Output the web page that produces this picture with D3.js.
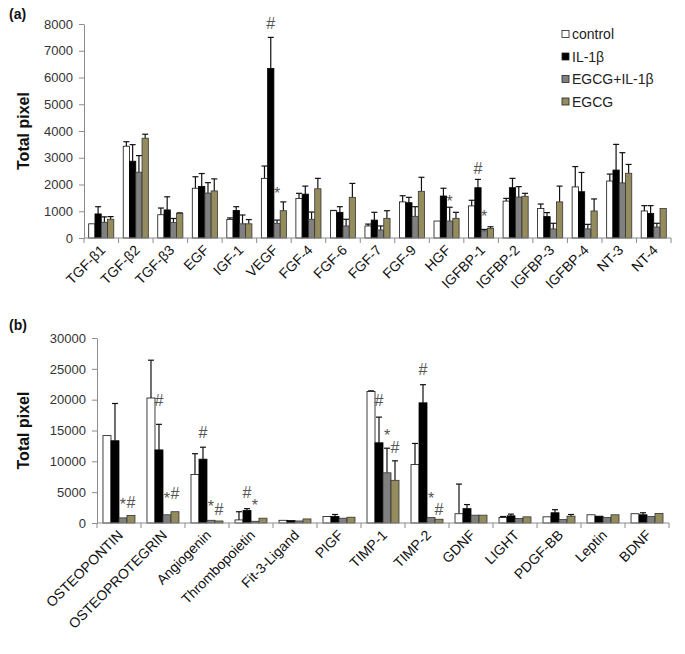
<!DOCTYPE html>
<html><head><meta charset="utf-8">
<script src="https://cdn.jsdelivr.net/npm/d3@7/dist/d3.min.js"></script>
<style>
body{margin:0;background:#fff;}
text{font-family:"Liberation Sans",Arial,sans-serif;}
</style></head>
<body><svg id="c" width="685" height="654"></svg>
<script>
const seriesNames = ["control","IL-1β","EGCG+IL-1β","EGCG"];
const seriesColors = ["#ffffff","#000000","#808080","#958c5d"];

// Panel (a)
const categoriesA = ["TGF-β1","TGF-β2","TGF-β3","EGF","IGF-1","VEGF","FGF-4","FGF-6","FGF-7","FGF-9","HGF","IGFBP-1","IGFBP-2","IGFBP-3","IGFBP-4","NT-3","NT-4"];
const controlA   = [530,3430,870,1860,690,2230,1480,1020,450,1350,635,1200,1380,1100,1910,2130,1010];
const il1bA      = [900,2870,1050,1930,1030,6340,1640,960,670,1320,1570,1880,1880,800,1730,2540,920];
const egcgIl1bA  = [590,2460,580,1680,530,550,700,450,300,810,635,270,1530,340,340,2060,410];
const egcgA      = [700,3730,920,1760,530,1020,1840,1520,735,1745,735,360,1560,1350,1010,2420,1100];
const errControlA  = [0,170,250,430,60,460,190,10,70,230,0,210,100,170,760,260,200];
const errIl1bA     = [270,620,490,480,140,1160,300,210,290,200,290,310,350,150,720,960,290];
const errEgcgIl1bA = [200,620,150,390,330,120,270,250,150,360,515,50,390,210,170,1130,140];
const errEgcgA     = [100,150,20,450,160,330,390,520,285,525,225,60,110,590,450,330,0];
const ticksA = [0,1000,2000,3000,4000,5000,6000,7000,8000];
const marksA = [
  {cat:"VEGF", s:1, sym:"#", v:8000},
  {cat:"VEGF", s:2, sym:"*", v:1640},
  {cat:"HGF", s:2, sym:"*", v:1330},
  {cat:"IGFBP-1", s:1, sym:"#", v:2580},
  {cat:"IGFBP-1", s:2, sym:"*", v:790}
];

// Panel (b)
const categoriesB = ["OSTEOPONTIN","OSTEOPROTEGRIN","Angiogenin","Thrombopoietin","Fit-3-Ligand","PIGF","TIMP-1","TIMP-2","GDNF","LIGHT","PDGF-BB","Leptin","BDNF"];
const controlB   = [14170,20270,7860,500,440,1050,21320,9470,1500,890,1000,1330,1500];
const il1bB      = [13340,11850,10350,2050,390,1050,13010,19490,2330,1160,1660,1110,1330];
const egcgIl1bB  = [830,1330,440,280,330,780,8140,890,1270,720,550,890,1050];
const egcgB      = [1220,1830,330,780,660,940,6920,610,1270,1000,1110,1330,1550];
const errControlB  = [0,6130,3380,1330,0,0,110,3430,4810,160,0,0,0];
const errIl1bB     = [6040,4150,1940,280,0,330,4160,2940,660,280,500,0,330];
const errEgcgIl1bB = [0,0,0,0,0,0,3990,0,0,0,0,0,0];
const errEgcgB     = [0,0,0,0,0,0,3160,0,0,0,270,0,0];
const ticksB = [0,5000,10000,15000,20000,25000,30000];
const marksB = [
  {cat:"OSTEOPONTIN", s:2, sym:"*", v:2880},
  {cat:"OSTEOPONTIN", s:3, sym:"#", v:3320},
  {cat:"OSTEOPROTEGRIN", s:1, sym:"#", v:19770},
  {cat:"OSTEOPROTEGRIN", s:2, sym:"*", v:3930},
  {cat:"OSTEOPROTEGRIN", s:3, sym:"#", v:4650},
  {cat:"Angiogenin", s:1, sym:"#", v:14670},
  {cat:"Angiogenin", s:2, sym:"*", v:2600},
  {cat:"Angiogenin", s:3, sym:"#", v:2050},
  {cat:"Thrombopoietin", s:1, sym:"#", v:4820},
  {cat:"Thrombopoietin", s:2, sym:"*", v:2710},
  {cat:"TIMP-1", s:1, sym:"#", v:19770},
  {cat:"TIMP-1", s:2, sym:"*", v:14060},
  {cat:"TIMP-1", s:3, sym:"#", v:12240},
  {cat:"TIMP-2", s:1, sym:"#", v:24860},
  {cat:"TIMP-2", s:2, sym:"*", v:3880},
  {cat:"TIMP-2", s:3, sym:"#", v:2160}
];

const svg = d3.select("#c");

function panel(cfg){
  const g = svg.append("g");
  const x = d3.scaleBand().domain(cfg.cats).range([cfg.x0, cfg.x1]).paddingInner(0.273).paddingOuter(0.136);
  const xs = d3.scaleBand().domain([0,1,2,3]).range([0, x.bandwidth()]);
  const y = d3.scaleLinear().domain([0, cfg.ymax]).range([cfg.yb, cfg.yt]);
  const vals = [cfg.c, cfg.i, cfg.ei, cfg.e];
  const errs = [cfg.ec, cfg.ei_, cfg.eei, cfg.ee];

  const ya = g.append("g").attr("transform", `translate(${cfg.x0},0)`)
    .call(d3.axisLeft(y).tickValues(cfg.ticks).tickSize(5).tickSizeOuter(0).tickPadding(6).tickFormat(d3.format("d")));
  ya.select(".domain").attr("stroke","#8c8c8c");
  ya.selectAll(".tick line").attr("stroke","#8c8c8c");
  ya.selectAll(".tick text").attr("font-size", 13).attr("fill","#333").attr("font-family","Liberation Sans, Arial, sans-serif");

  cfg.cats.forEach((cat, ci) => {
    for(let s=0;s<4;s++){
      const v = vals[s][ci];
      const bx = x(cat) + xs(s);
      const bw = xs.bandwidth();
      const err = errs[s][ci];
      if(err>0){
        const cx = bx + bw/2;
        g.append("line").attr("x1",cx).attr("x2",cx).attr("y1",y(v)).attr("y2",y(v+err)).attr("stroke","#111").attr("stroke-width",1.2);
        g.append("line").attr("x1",cx-3).attr("x2",cx+3).attr("y1",y(v+err)).attr("y2",y(v+err)).attr("stroke","#111").attr("stroke-width",1.2);
      }
      g.append("rect").attr("x",bx).attr("y",y(v)).attr("width",bw).attr("height",y(0)-y(v))
        .attr("fill",seriesColors[s]).attr("stroke", s===0 ? "#111" : (s===1 ? "#000" : "#333")).attr("stroke-width",0.8);
    }
  });

  g.append("line").attr("x1",cfg.x0).attr("x2",cfg.x1).attr("y1",y(0)).attr("y2",y(0)).attr("stroke","#8c8c8c");
  const step = x.step();
  for(let k=0;k<=cfg.cats.length;k++){
    const tx = cfg.x0 + k*step;
    g.append("line").attr("x1",tx).attr("x2",tx).attr("y1",y(0)).attr("y2",y(0)+5).attr("stroke","#8c8c8c");
  }
  cfg.cats.forEach(cat => {
    const cx = x(cat) + x.bandwidth()/2 + 5;
    g.append("text").attr("transform",`translate(${cx},${y(0)+13}) rotate(-45)`)
      .attr("text-anchor","end").attr("font-size",cfg.lfs).attr("fill","#111").text(cat);
  });

  cfg.marks.forEach(m => {
    g.append("text").attr("x", x(m.cat)+xs(m.s)+xs.bandwidth()/2).attr("y", y(m.v)+5)
      .attr("text-anchor","middle").attr("font-size",16).attr("fill","#555").text(m.sym);
  });

  g.append("text").attr("transform",`translate(${cfg.ylx},${(cfg.yb+cfg.yt)/2}) rotate(-90)`)
    .attr("text-anchor","middle").attr("font-size",16).attr("font-weight","bold").attr("fill","#111").text("Total pixel");
  g.append("text").attr("x",cfg.tx).attr("y",cfg.ty).attr("font-size",14).attr("font-weight","bold").attr("fill","#111").text(cfg.title);
}

panel({cats:categoriesA, x0:84, x1:671, yb:238, yt:24, ymax:8000, ticks:ticksA,
  c:controlA, i:il1bA, ei:egcgIl1bA, e:egcgA, ec:errControlA, ei_:errIl1bA, eei:errEgcgIl1bA, ee:errEgcgA,
  marks:marksA, lfs:14, ylx:29, title:"(a)", tx:9, ty:19});
panel({cats:categoriesB, x0:97, x1:669, yb:523, yt:338, ymax:30000, ticks:ticksB,
  c:controlB, i:il1bB, ei:egcgIl1bB, e:egcgB, ec:errControlB, ei_:errIl1bB, eei:errEgcgIl1bB, ee:errEgcgB,
  marks:marksB, lfs:14, ylx:29, title:"(b)", tx:9, ty:330});

const leg = svg.append("g");
seriesNames.forEach((n,i) => {
  const ly = 34 + i*22.5;
  leg.append("rect").attr("x",562).attr("y",ly-3.5).attr("width",7).attr("height",7)
    .attr("fill",seriesColors[i]).attr("stroke","#222").attr("stroke-width",0.8);
  leg.append("text").attr("x",572).attr("y",ly+5).attr("font-size",14).attr("fill","#222").text(n);
});
</script></body></html>
